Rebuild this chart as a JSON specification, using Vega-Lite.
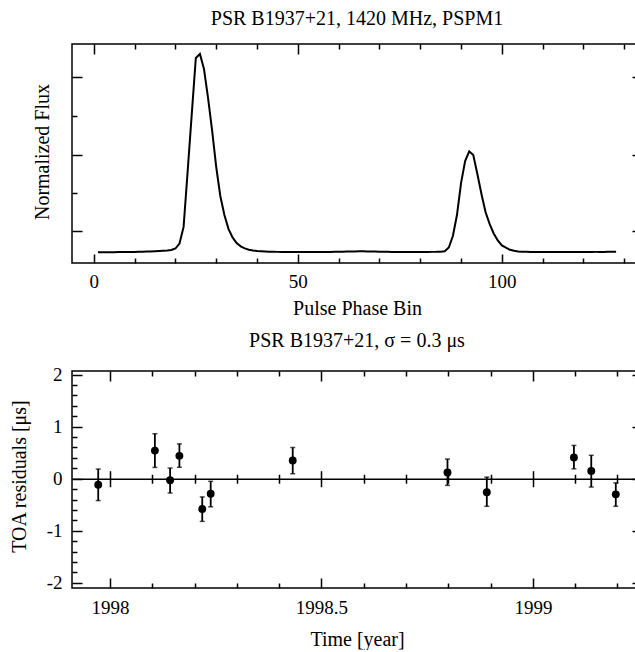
{
  "$schema": "https://vega.github.io/schema/vega-lite/v6.json",
  "padding": {"left": 8, "top": 8, "right": 0, "bottom": 0},
  "spacing": 10,
  "config": {
    "font": "Liberation Serif",
    "view": {"stroke": "black", "strokeWidth": 1.5},
    "axis": {
      "domain": false, "grid": false, "tickColor": "black", "tickWidth": 1.5,
      "labelFont": "Liberation Serif", "labelFontSize": 19, "labelColor": "black",
      "titleFont": "Liberation Serif", "titleFontSize": 20, "titleFontWeight": "normal", "titleColor": "black",
      "labelFlush": false, "labelOverlap": false, "labelPadding": 11
    },
    "title": {"font": "Liberation Serif", "fontSize": 20, "fontWeight": "normal", "color": "black", "baseline": "alphabetic", "offset": 14.5, "anchor": "middle", "frame": "group"}
  },
  "datasets": {
    "profile": [
      {"bin":1,"flux":0.0000},{"bin":2,"flux":0.0002},{"bin":3,"flux":0.0004},{"bin":4,"flux":0.0006},{"bin":5,"flux":0.0008},
      {"bin":6,"flux":0.0010},{"bin":7,"flux":0.0012},{"bin":8,"flux":0.0014},{"bin":9,"flux":0.0017},{"bin":10,"flux":0.0020},
      {"bin":11,"flux":0.0023},{"bin":12,"flux":0.0028},{"bin":13,"flux":0.0035},{"bin":14,"flux":0.0043},{"bin":15,"flux":0.0053},
      {"bin":16,"flux":0.0064},{"bin":17,"flux":0.0076},{"bin":18,"flux":0.0090},{"bin":19,"flux":0.0116},{"bin":20,"flux":0.0190},
      {"bin":21,"flux":0.0440},{"bin":22,"flux":0.1280},{"bin":23,"flux":0.4100},{"bin":24,"flux":0.6970},{"bin":25,"flux":0.9800},
      {"bin":26,"flux":1.0000},{"bin":27,"flux":0.9240},{"bin":28,"flux":0.7780},{"bin":29,"flux":0.6120},{"bin":30,"flux":0.4300},
      {"bin":31,"flux":0.2840},{"bin":32,"flux":0.1880},{"bin":33,"flux":0.1180},{"bin":34,"flux":0.0750},{"bin":35,"flux":0.0470},
      {"bin":36,"flux":0.0300},{"bin":37,"flux":0.0200},{"bin":38,"flux":0.0130},{"bin":39,"flux":0.0090},{"bin":40,"flux":0.0066},
      {"bin":41,"flux":0.0050},{"bin":42,"flux":0.0038},{"bin":43,"flux":0.0030},{"bin":44,"flux":0.0025},{"bin":45,"flux":0.0021},
      {"bin":46,"flux":0.0019},{"bin":47,"flux":0.0018},{"bin":48,"flux":0.0017},{"bin":49,"flux":0.0016},{"bin":50,"flux":0.0016},
      {"bin":51,"flux":0.0015},{"bin":52,"flux":0.0015},{"bin":53,"flux":0.0015},{"bin":54,"flux":0.0016},{"bin":55,"flux":0.0016},
      {"bin":56,"flux":0.0017},{"bin":57,"flux":0.0018},{"bin":58,"flux":0.0020},{"bin":59,"flux":0.0023},{"bin":60,"flux":0.0026},
      {"bin":61,"flux":0.0030},{"bin":62,"flux":0.0035},{"bin":63,"flux":0.0040},{"bin":64,"flux":0.0045},{"bin":65,"flux":0.0050},
      {"bin":66,"flux":0.0050},{"bin":67,"flux":0.0046},{"bin":68,"flux":0.0040},{"bin":69,"flux":0.0034},{"bin":70,"flux":0.0029},
      {"bin":71,"flux":0.0025},{"bin":72,"flux":0.0022},{"bin":73,"flux":0.0020},{"bin":74,"flux":0.0019},{"bin":75,"flux":0.0018},
      {"bin":76,"flux":0.0018},{"bin":77,"flux":0.0018},{"bin":78,"flux":0.0018},{"bin":79,"flux":0.0019},{"bin":80,"flux":0.0019},
      {"bin":81,"flux":0.0020},{"bin":82,"flux":0.0020},{"bin":83,"flux":0.0021},{"bin":84,"flux":0.0022},{"bin":85,"flux":0.0028},
      {"bin":86,"flux":0.0050},{"bin":87,"flux":0.0240},{"bin":88,"flux":0.0820},{"bin":89,"flux":0.1880},{"bin":90,"flux":0.3490},
      {"bin":91,"flux":0.4600},{"bin":92,"flux":0.5090},{"bin":93,"flux":0.4910},{"bin":94,"flux":0.3950},{"bin":95,"flux":0.2940},
      {"bin":96,"flux":0.2030},{"bin":97,"flux":0.1430},{"bin":98,"flux":0.0950},{"bin":99,"flux":0.0600},{"bin":100,"flux":0.0350},
      {"bin":101,"flux":0.0230},{"bin":102,"flux":0.0126},{"bin":103,"flux":0.0076},{"bin":104,"flux":0.0045},{"bin":105,"flux":0.0030},
      {"bin":106,"flux":0.0024},{"bin":107,"flux":0.0020},{"bin":108,"flux":0.0019},{"bin":109,"flux":0.0018},{"bin":110,"flux":0.0018},
      {"bin":111,"flux":0.0017},{"bin":112,"flux":0.0017},{"bin":113,"flux":0.0017},{"bin":114,"flux":0.0017},{"bin":115,"flux":0.0018},
      {"bin":116,"flux":0.0018},{"bin":117,"flux":0.0018},{"bin":118,"flux":0.0019},{"bin":119,"flux":0.0019},{"bin":120,"flux":0.0020},
      {"bin":121,"flux":0.0020},{"bin":122,"flux":0.0020},{"bin":123,"flux":0.0021},{"bin":124,"flux":0.0021},{"bin":125,"flux":0.0021},
      {"bin":126,"flux":0.0022},{"bin":127,"flux":0.0022},{"bin":128,"flux":0.0022}
    ],
    "toa": [
      {"year":1997.972,"res":-0.115,"lo":-0.42,"hi":0.186},
      {"year":1998.106,"res":0.54,"lo":0.217,"hi":0.864},
      {"year":1998.142,"res":-0.03,"lo":-0.275,"hi":0.205},
      {"year":1998.164,"res":0.44,"lo":0.22,"hi":0.67},
      {"year":1998.218,"res":-0.58,"lo":-0.82,"hi":-0.35},
      {"year":1998.238,"res":-0.29,"lo":-0.54,"hi":-0.05},
      {"year":1998.432,"res":0.35,"lo":0.096,"hi":0.60},
      {"year":1998.798,"res":0.12,"lo":-0.128,"hi":0.378},
      {"year":1998.891,"res":-0.26,"lo":-0.53,"hi":0.03},
      {"year":1999.097,"res":0.41,"lo":0.19,"hi":0.64},
      {"year":1999.138,"res":0.15,"lo":-0.16,"hi":0.45},
      {"year":1999.196,"res":-0.30,"lo":-0.53,"hi":-0.08}
    ]
  },
  "vconcat": [
    {
      "width": 570, "height": 219,
      "title": {"text": "PSR B1937+21, 1420 MHz, PSPM1"},
      "data": {"name": "profile"},
      "layer": [
        {
          "mark": {"type": "line", "color": "black", "strokeWidth": 2},
          "encoding": {
            "x": {"field": "bin", "type": "quantitative",
              "scale": {"domain": [-5.35, 134.35], "nice": false, "zero": false},
              "axis": {"orient": "bottom", "values": [0, 50, 100], "tickSize": -9, "labelPadding": 18, "format": "d", "title": "Pulse Phase Bin", "titleBaseline": "alphabetic", "titleY": 51.7}},
            "y": {"field": "flux", "type": "quantitative",
              "scale": {"domain": [-0.054, 1.0504], "nice": false, "zero": false},
              "axis": {"orient": "left", "values": [0.1059, 0.4925, 0.8825], "tickSize": -10, "labels": false, "title": "Normalized Flux", "titleBaseline": "alphabetic", "titleX": -24, "titleY": 107.5}}
          }
        },
        {
          "mark": {"type": "line", "opacity": 0},
          "encoding": {
            "x": {"field": "bin", "type": "quantitative", "axis": {"orient": "bottom", "values": [10,20,30,40,60,70,80,90,110,120,130], "tickSize": -5, "labels": false, "title": null}},
            "y": {"field": "flux", "type": "quantitative", "axis": {"orient": "left", "values": [0.2995, 0.6865], "tickSize": -5, "labels": false, "title": null}}
          }
        },
        {
          "mark": {"type": "line", "opacity": 0},
          "encoding": {
            "x": {"field": "bin", "type": "quantitative", "axis": {"orient": "top", "values": [0, 50, 100], "tickSize": -10, "labels": false, "title": null}},
            "y": {"field": "flux", "type": "quantitative", "axis": {"orient": "right", "values": [0.1059, 0.4925, 0.8825], "tickSize": -10, "labels": false, "title": null}}
          }
        },
        {
          "mark": {"type": "line", "opacity": 0},
          "encoding": {
            "x": {"field": "bin", "type": "quantitative", "axis": {"orient": "top", "values": [10,20,30,40,60,70,80,90,110,120,130], "tickSize": -5, "labels": false, "title": null}},
            "y": {"field": "flux", "type": "quantitative", "axis": {"orient": "right", "values": [0.2995, 0.6865], "tickSize": -5, "labels": false, "title": null}}
          }
        }
      ],
      "resolve": {"axis": {"x": "independent", "y": "independent"}}
    },
    {
      "width": 570, "height": 217,
      "title": {"text": "PSR B1937+21, σ = 0.3 μs"},
      "data": {"name": "toa"},
      "layer": [
        {
          "mark": {"type": "rule", "color": "black", "strokeWidth": 1.8},
          "encoding": {
            "x": {"field": "year", "type": "quantitative",
              "scale": {"domain": [1997.910, 1999.258], "nice": false, "zero": false},
              "axis": {"orient": "bottom", "values": [1998, 1998.5, 1999], "tickSize": -10, "labelPadding": 20, "labelExpr": "'' + datum.value", "title": "Time [year]", "titleBaseline": "alphabetic", "titleY": 57}},
            "y": {"field": "lo", "type": "quantitative",
              "scale": {"domain": [-2.1, 2.07], "nice": false, "zero": false},
              "axis": {"orient": "left", "values": [-2, -1, 0, 1, 2], "tickSize": -10, "labelPadding": 20, "labelExpr": "replace(datum.label, '−', '-')", "title": "TOA residuals [μs]", "titleBaseline": "alphabetic", "titleX": -47, "titleY": 105}},
            "y2": {"field": "hi"}
          }
        },
        {
          "mark": {"type": "tick", "orient": "horizontal", "color": "black", "size": 5, "thickness": 1.5},
          "encoding": {
            "x": {"field": "year", "type": "quantitative", "axis": {"orient": "bottom", "values": [1998.1,1998.2,1998.3,1998.4,1998.6,1998.7,1998.8,1998.9,1999.1,1999.2], "tickSize": -5, "labels": false, "title": null}},
            "y": {"field": "lo", "type": "quantitative", "axis": {"orient": "left", "values": [-1.8,-1.6,-1.4,-1.2,-0.8,-0.6,-0.4,-0.2,0.2,0.4,0.6,0.8,1.2,1.4,1.6,1.8], "tickSize": -5, "labels": false, "title": null}}
          }
        },
        {
          "mark": {"type": "tick", "orient": "horizontal", "color": "black", "size": 5, "thickness": 1.5},
          "encoding": {
            "x": {"field": "year", "type": "quantitative", "axis": {"orient": "top", "values": [1998, 1998.5, 1999], "tickSize": -10, "labels": false, "title": null}},
            "y": {"field": "hi", "type": "quantitative", "axis": {"orient": "right", "values": [-2, -1, 0, 1, 2], "tickSize": -10, "labels": false, "title": null}}
          }
        },
        {
          "mark": {"type": "circle", "color": "black", "opacity": 1, "size": 62},
          "encoding": {
            "x": {"field": "year", "type": "quantitative", "axis": {"orient": "top", "values": [1998.1,1998.2,1998.3,1998.4,1998.6,1998.7,1998.8,1998.9,1999.1,1999.2], "tickSize": -5, "labels": false, "title": null}},
            "y": {"field": "res", "type": "quantitative", "axis": {"orient": "right", "values": [-1.8,-1.6,-1.4,-1.2,-0.8,-0.6,-0.4,-0.2,0.2,0.4,0.6,0.8,1.2,1.4,1.6,1.8], "tickSize": -5, "labels": false, "title": null}}
          }
        },
        {
          "mark": {"type": "point", "opacity": 0},
          "encoding": {
            "x": {"field": "year", "type": "quantitative", "axis": {"orient": "bottom", "offset": -109.28, "values": [1998, 1998.5, 1999], "tickSize": 8, "labels": false, "title": null, "domain": true, "domainColor": "black", "domainWidth": 1.5}},
            "y": {"field": "res", "type": "quantitative", "axis": null}
          }
        },
        {
          "mark": {"type": "point", "opacity": 0},
          "encoding": {
            "x": {"field": "year", "type": "quantitative", "axis": {"orient": "top", "offset": -107.72, "values": [1998, 1998.5, 1999], "tickSize": 8, "labels": false, "title": null}},
            "y": {"field": "res", "type": "quantitative", "axis": null}
          }
        },
        {
          "mark": {"type": "point", "opacity": 0},
          "encoding": {
            "x": {"field": "year", "type": "quantitative", "axis": {"orient": "bottom", "offset": -109.28, "values": [1998.1,1998.2,1998.3,1998.4,1998.6,1998.7,1998.8,1998.9,1999.1,1999.2], "tickSize": 4.5, "labels": false, "title": null}},
            "y": {"field": "res", "type": "quantitative", "axis": null}
          }
        },
        {
          "mark": {"type": "point", "opacity": 0},
          "encoding": {
            "x": {"field": "year", "type": "quantitative", "axis": {"orient": "top", "offset": -107.72, "values": [1998.1,1998.2,1998.3,1998.4,1998.6,1998.7,1998.8,1998.9,1999.1,1999.2], "tickSize": 4.5, "labels": false, "title": null}},
            "y": {"field": "res", "type": "quantitative", "axis": null}
          }
        }
      ],
      "resolve": {"axis": {"x": "independent", "y": "independent"}}
    }
  ]
}
